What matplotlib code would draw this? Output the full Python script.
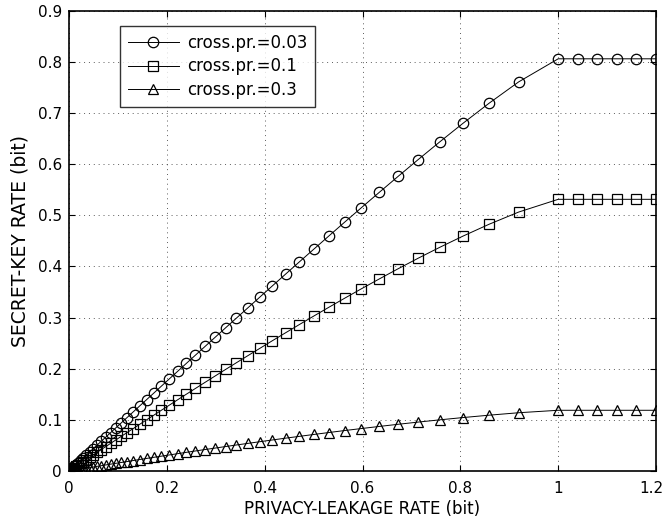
import matplotlib
matplotlib.use("Agg")
import matplotlib.pyplot as plt
import matplotlib.transforms as mtransforms

# Privacy-leakage rate (bit) of each plotted point (shared by the three curves)
leakage = [0.0000, 0.0003, 0.0012, 0.0026, 0.0046, 0.0072, 0.0104, 0.0142, 0.0185, 0.0235,
           0.0290, 0.0352, 0.0420, 0.0493, 0.0573, 0.0659, 0.0752, 0.0851, 0.0956, 0.1068,
           0.1187, 0.1313, 0.1445, 0.1585, 0.1733, 0.1887, 0.2050, 0.2220, 0.2398, 0.2585,
           0.2781, 0.2985, 0.3199, 0.3423, 0.3657, 0.3902, 0.4158, 0.4426, 0.4706, 0.5001,
           0.5310, 0.5635, 0.5978, 0.6341, 0.6726, 0.7136, 0.7577, 0.8056, 0.8586, 0.9192,
           1.0000, 1.04, 1.08, 1.12, 1.16, 1.20]

# Secret-key rate (bit) for each crossover probability
key_003 = [0.0000, 0.0003, 0.0010, 0.0023, 0.0041, 0.0064, 0.0092, 0.0125, 0.0164, 0.0208,
           0.0256, 0.0311, 0.0370, 0.0435, 0.0506, 0.0582, 0.0663, 0.0750, 0.0843, 0.0941,
           0.1045, 0.1156, 0.1272, 0.1394, 0.1523, 0.1658, 0.1800, 0.1948, 0.2103, 0.2265,
           0.2435, 0.2612, 0.2797, 0.2989, 0.3190, 0.3400, 0.3619, 0.3847, 0.4085, 0.4333,
           0.4592, 0.4864, 0.5147, 0.5445, 0.5757, 0.6085, 0.6431, 0.6797, 0.7187, 0.7605,
           0.8056, 0.8056, 0.8056, 0.8056, 0.8056, 0.8056]
key_01 = [0.0000, 0.0002, 0.0007, 0.0017, 0.0030, 0.0046, 0.0067, 0.0091, 0.0119, 0.0150,
          0.0185, 0.0225, 0.0268, 0.0314, 0.0365, 0.0420, 0.0478, 0.0540, 0.0607, 0.0677,
          0.0752, 0.0830, 0.0913, 0.1000, 0.1091, 0.1187, 0.1287, 0.1392, 0.1501, 0.1614,
          0.1733, 0.1856, 0.1984, 0.2117, 0.2255, 0.2398, 0.2547, 0.2701, 0.2861, 0.3027,
          0.3199, 0.3377, 0.3562, 0.3753, 0.3952, 0.4158, 0.4371, 0.4592, 0.4822, 0.5061,
          0.5310, 0.5310, 0.5310, 0.5310, 0.5310, 0.5310]
key_03 = [0.0000, 0.0000, 0.0002, 0.0004, 0.0007, 0.0012, 0.0017, 0.0023, 0.0030, 0.0037,
          0.0046, 0.0056, 0.0067, 0.0078, 0.0091, 0.0104, 0.0119, 0.0134, 0.0150, 0.0167,
          0.0185, 0.0205, 0.0225, 0.0246, 0.0268, 0.0290, 0.0314, 0.0339, 0.0365, 0.0392,
          0.0420, 0.0448, 0.0478, 0.0509, 0.0540, 0.0573, 0.0607, 0.0642, 0.0677, 0.0714,
          0.0752, 0.0791, 0.0830, 0.0871, 0.0913, 0.0956, 0.1000, 0.1045, 0.1091, 0.1139,
          0.1187, 0.1187, 0.1187, 0.1187, 0.1187, 0.1187]

labels = ["cross.pr.=0.03", "cross.pr.=0.1", "cross.pr.=0.3"]
markers = ["o", "s", "^"]
msizes = [7.5, 6.5, 7.5]

xticks = [0, 0.2, 0.4, 0.6, 0.8, 1.0, 1.2]
xticklabels = ["0", "0.2", "0.4", "0.6", "0.8", "1", "1.2"]
yticks = [0, 0.1, 0.2, 0.3, 0.4, 0.5, 0.6, 0.7, 0.8, 0.9]
yticklabels = ["0", "0.1", "0.2", "0.3", "0.4", "0.5", "0.6", "0.7", "0.8", "0.9"]

plt.rcParams['font.family'] = ['DejaVu Sans']

fig = plt.figure(figsize=(6.65, 5.2), dpi=100)
ax = fig.add_axes([0.1038, 0.0942, 0.8827, 0.8856])

for ys, lab, mk, ms in zip([key_003, key_01, key_03], labels, markers, msizes):
    ax.plot(leakage, ys, color='black', lw=0.7, marker=mk, ms=ms,
            mfc='none', mec='black', mew=0.9, label=lab)

ax.set_xlim(0, 1.2)
ax.set_ylim(0, 0.9)
ax.set_xticks(xticks)
ax.set_xticklabels(xticklabels)
ax.set_yticks(yticks)
ax.set_yticklabels(yticklabels)
ax.tick_params(direction='in', top=True, right=True, labelsize=11, length=4,
               width=0.8)
ax.tick_params(axis='x', pad=7)
ax.tick_params(axis='y', pad=5)
ax.grid(True, linestyle=(0, (1, 4)), color='#333333', lw=0.7, alpha=0.8)
for s in ax.spines.values():
    s.set_linewidth(1.2)

# keep the last x tick label inside the picture
last = ax.get_xticklabels()[-1]
last.set_transform(last.get_transform() +
                   mtransforms.ScaledTranslation(-5 / 100, 0, fig.dpi_scale_trans))

ax.set_xlabel("PRIVACY-LEAKAGE RATE (bit)", fontsize=12, labelpad=3)
ax.set_ylabel("SECRET-KEY RATE (bit)", fontsize=13.5, labelpad=6)

leg = ax.legend(loc='upper left', bbox_to_anchor=(0.087, 0.966), borderaxespad=0,
                fontsize=12, frameon=True, fancybox=False, edgecolor='black',
                handlelength=3.1, handletextpad=0.5, labelspacing=0.35,
                borderpad=0.45)
leg.get_frame().set_linewidth(1.0)

fig.savefig("out.png", dpi=100)
